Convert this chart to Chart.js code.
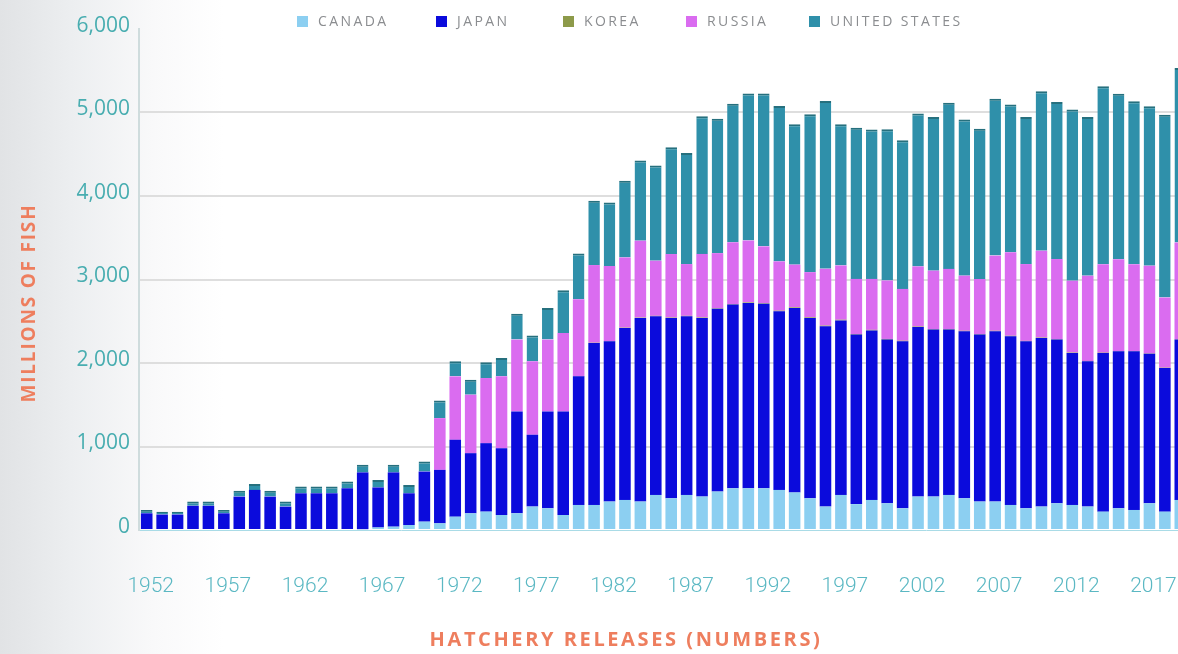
<!DOCTYPE html>
<html>
<head>
<meta charset="utf-8">
<script src="https://cdn.jsdelivr.net/npm/chart.js@4.4.1/dist/chart.umd.min.js"></script>
<style>
  html, body { margin: 0; padding: 0; }
  body {
    width: 1178px;
    height: 654px;
    overflow: hidden;
    background: linear-gradient(to right, #e1e3e5 0%, #eceef0 6%, #f9f9fa 13%, #ffffff 19%);
  }
  #wrap { position: absolute; left: 0; top: 0; width: 1188px; height: 654px; }
</style>
</head>
<body>
<div id="wrap"><canvas id="releases" width="1188" height="654"></canvas></div>
<script>
// Hatchery releases by country, millions of fish
var years = [
  '1952', '1953', '1954', '1955', '1956', '1957', '1958', '1959', '1960', '1961',
  '1962', '1963', '1964', '1965', '1966', '1967', '1968', '1969', '1970', '1971',
  '1972', '1973', '1974', '1975', '1976', '1977', '1978', '1979', '1980', '1981',
  '1982', '1983', '1984', '1985', '1986', '1987', '1988', '1989', '1990', '1991',
  '1992', '1993', '1994', '1995', '1996', '1997', '1998', '1999', '2000', '2001',
  '2002', '2003', '2004', '2005', '2006', '2007', '2008', '2009', '2010', '2011',
  '2012', '2013', '2014', '2015', '2016', '2017', '2018', '2019'
];

var canada = [
  0, 0, 0, 0, 0, 0, 0, 0, 0, 0,
  0, 0, 0, 0, 10, 30, 40, 60, 100, 80,
  160, 200, 220, 180, 200, 280, 260, 180, 300, 300,
  340, 360, 340, 420, 380, 420, 400, 460, 500, 500,
  500, 480, 450, 380, 280, 420, 310, 360, 320, 260,
  400, 400, 420, 380, 340, 340, 300, 260, 280, 320,
  300, 280, 220, 260, 240, 320, 220, 360
];

var japan = [
  200, 185, 185, 290, 290, 200, 400, 480, 400, 280,
  440, 440, 440, 500, 680, 480, 650, 380, 600, 640,
  920, 720, 820, 800, 1220, 860, 1160, 1240, 1540, 1940,
  1920, 2060, 2200, 2140, 2160, 2140, 2140, 2190, 2200, 2220,
  2210, 2140, 2210, 2160, 2160, 2090, 2030, 2030, 1960, 2000,
  2030, 2000, 1980, 2000, 2000, 2040, 2020, 2000, 2020, 1960,
  1820, 1740, 1900, 1880, 1900, 1790, 1720, 1920
];

var korea = [
  0, 0, 0, 0, 0, 0, 0, 0, 0, 0,
  0, 0, 0, 0, 0, 0, 0, 0, 0, 0,
  0, 0, 0, 0, 0, 0, 0, 0, 2, 3,
  3, 4, 4, 5, 5, 5, 6, 6, 6, 7,
  7, 7, 8, 8, 8, 8, 7, 7, 8, 7,
  7, 6, 7, 6, 6, 6, 6, 5, 5, 5,
  5, 5, 4, 4, 4, 4, 4, 4
];

var russia = [
  0, 0, 0, 0, 0, 0, 0, 0, 0, 0,
  0, 0, 0, 0, 0, 0, 0, 0, 0, 620,
  760, 700, 780, 860, 860, 880, 860, 940, 920, 930,
  900, 840, 920, 660, 760, 620, 760, 660, 740, 740,
  680, 590, 510, 540, 680, 650, 660, 610, 700, 620,
  720, 700, 720, 660, 660, 900, 1000, 920, 1040, 960,
  860, 1020, 1060, 1100, 1040, 1050, 840, 1160
];

var unitedStates = [
  40, 35, 35, 50, 50, 40, 70, 70, 70, 60,
  80, 80, 80, 80, 90, 90, 90, 100, 120, 210,
  180, 180, 190, 220, 310, 310, 380, 510, 550, 770,
  760, 920, 960, 1140, 1280, 1330, 1650, 1610, 1660, 1760,
  1830, 1860, 1680, 1890, 2010, 1690, 1810, 1790, 1810, 1780,
  1830, 1840, 1990, 1870, 1800, 1880, 1770, 1760, 1910, 1880,
  2050, 1900, 2130, 1980, 1950, 1910, 2190, 2090
];

var yTicks = [0, 1000, 2000, 3000, 4000, 5000, 6000];

var tealText = '#48adb0';
var coral = '#ee7e5e';

// legend and axis titles are painted by hand so they sit where the layout wants them
var legendX = [297, 436, 563, 686, 809];

var decorations = {
    id: 'decorations',
    afterDraw: function(chart) {
        var ctx = chart.ctx;
        ctx.save();

        // legend row across the top
        ctx.font = '14px "Open Sans", sans-serif';
        ctx.letterSpacing = '2.4px';
        ctx.textBaseline = 'middle';
        ctx.textAlign = 'left';
        chart.data.datasets.forEach(function(ds, i) {
            var x = legendX[i];
            ctx.fillStyle = ds.backgroundColor;
            ctx.fillRect(x, 16, 11, 11);
            ctx.fillStyle = '#8b8d90';
            ctx.fillText(ds.label, x + 21, 22);
        });

        // axis titles
        ctx.fillStyle = coral;
        ctx.font = 'bold 20px "Open Sans", sans-serif';
        ctx.letterSpacing = '2.6px';
        ctx.textAlign = 'center';
        ctx.fillText('HATCHERY RELEASES (NUMBERS)', 626, 640);

        ctx.font = 'bold 19px "Open Sans", sans-serif';
        ctx.letterSpacing = '1.8px';
        ctx.translate(30, 303);
        ctx.rotate(-Math.PI / 2);
        ctx.fillText('MILLIONS OF FISH', 0, 0);

        ctx.restore();
    }
};

var ctx = document.getElementById('releases').getContext('2d');
var releasesChart = new Chart(ctx, {
    type: 'bar',
    data: {
        labels: years,
        datasets: [
            { label: 'CANADA', data: canada, backgroundColor: '#8ccff1' },
            { label: 'JAPAN', data: japan, backgroundColor: '#0b0bdc' },
            { label: 'KOREA', data: korea, backgroundColor: '#8d9a4a' },
            { label: 'RUSSIA', data: russia, backgroundColor: '#da6cf0' },
            {
                label: 'UNITED STATES',
                data: unitedStates,
                backgroundColor: '#2f90aa',
                borderColor: '#26707e',
                borderWidth: { top: 2, left: 0, right: 0, bottom: 0 },
                borderSkipped: 'bottom'
            }
        ]
    },
    plugins: [decorations],
    options: {
        responsive: false,
        animation: false,
        layout: { padding: { top: 29, left: 0, right: 0, bottom: 0 } },
        datasets: {
            bar: { barPercentage: 0.75, categoryPercentage: 1 }
        },
        plugins: {
            legend: { display: false },
            tooltip: { enabled: false }
        },
        scales: {
            x: {
                stacked: true,
                afterFit: function(scale) {
                    scale.height = 124;
                    scale.paddingLeft = 0;
                    scale.paddingRight = 0;
                },
                grid: { display: false, drawTicks: false },
                border: { display: true, color: '#a9dbe6', width: 1 },
                ticks: {
                    autoSkip: false,
                    maxRotation: 0,
                    padding: 44,
                    labelOffset: 4,
                    color: '#5bb8c3',
                    font: { family: 'Roboto, sans-serif', size: 21, weight: '300' },
                    callback: function(value, index) {
                        return index % 5 === 0 ? this.getLabelForValue(value) : '';
                    }
                }
            },
            y: {
                stacked: true,
                min: yTicks[0],
                max: yTicks[yTicks.length - 1],
                afterFit: function(scale) { scale.width = 139; },
                afterBuildTicks: function(scale) {
                    scale.ticks = yTicks.map(function(v) { return { value: v }; });
                },
                grid: {
                    drawTicks: false,
                    lineWidth: 2,
                    color: function(c) {
                        var v = c.tick ? c.tick.value : 0;
                        return (v === 0 || v === 6000) ? 'rgba(0,0,0,0)' : '#dedede';
                    }
                },
                border: { display: true, color: '#cfdcdd', width: 2 },
                ticks: {
                    padding: 9,
                    labelOffset: -3,
                    color: tealText,
                    font: { family: '"Open Sans", sans-serif', size: 21 },
                    callback: function(value) {
                        return value.toLocaleString('en-US');
                    }
                }
            }
        }
    }
});
</script>
</body>
</html>
